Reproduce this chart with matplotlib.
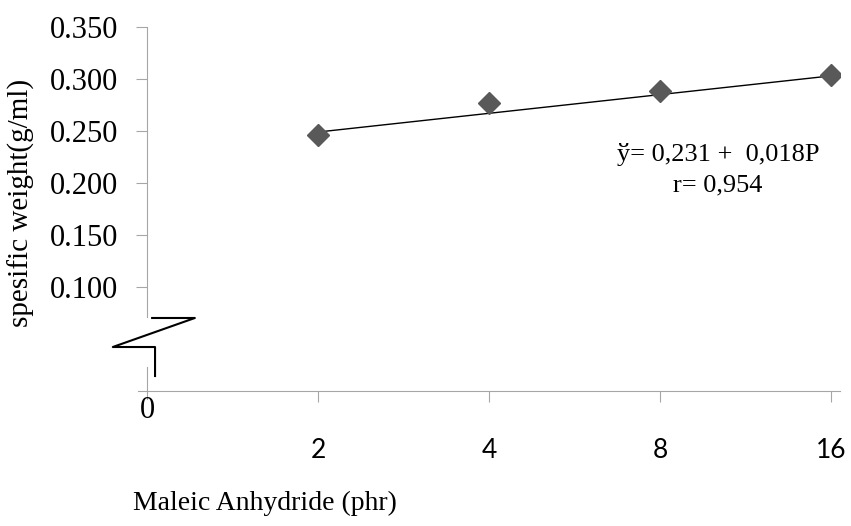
import numpy as np
import matplotlib.pyplot as plt

# data
categories = ["0", "2", "4", "8", "16"]
ma_phr = ["2", "4", "8", "16"]
spec_weight = [0.246, 0.277, 0.288, 0.304]
# trend line from the printed equation  y = 0.231 + 0.018 P
a0, a1 = 0.231, 0.018
y_ticks = [0.100, 0.150, 0.200, 0.250, 0.300, 0.350]

serif = "Liberation Serif"
gray = "#a6a6a6"

fig = plt.figure(figsize=(8.51, 5.26), dpi=100)
ax = fig.add_axes([138 / 851, 1 - 391 / 526, 702 / 851, 364 / 526])

pos = np.arange(1, len(ma_phr) + 1)
ax.plot(pos, spec_weight, linestyle="none", marker="D", markersize=11,
        color="#595959", zorder=3)
ax.plot(pos, a0 + a1 * pos, color="black", linewidth=1.0, zorder=2)

ax.set_xlim(-9 / 171, 693 / 171)
ax.set_ylim(0, 0.35)

# axes look
for s in ["top", "right"]:
    ax.spines[s].set_visible(False)
ax.spines["left"].set_color(gray)
ax.spines["bottom"].set_color(gray)
ax.spines["left"].set_position(("data", 0))
ax.spines["left"].set_bounds(0.0712, 0.35)
ax.plot([0, 0], [-0.008, 0.0231], color=gray, linewidth=0.8, clip_on=False)

ax.set_yticks(y_ticks)
ax.set_yticklabels(["%.3f" % v for v in y_ticks], fontfamily=serif, fontsize=22)
ax.tick_params(axis="y", length=8, color=gray, pad=13)

ax.set_xticks(pos)
ax.set_xticklabels(ma_phr, fontfamily="Lato", fontsize=19)
ax.tick_params(axis="x", length=8, color=gray, pad=26)
ax.text(0, -0.019, categories[0], ha="center", va="center",
        fontfamily=serif, fontsize=22)

# axis break symbol
bx = [0.03, 0.28, -0.2, 0.047, 0.047]
by = [0.0702, 0.0702, 0.0423, 0.0423, 0.0144]
ax.plot(bx, by, color="black", linewidth=1.5, clip_on=False, zorder=4)

ax.text(3.34, 0.227, "ў= 0,231 +  0,018P", ha="center", va="center",
        fontfamily=serif, fontsize=19)
ax.text(3.34, 0.198, "r= 0,954", ha="center", va="center",
        fontfamily=serif, fontsize=19)

fig.text(265 / 851, 1 - 503 / 526, "Maleic Anhydride (phr)", ha="center",
         va="center", fontfamily=serif, fontsize=20)
fig.text(21 / 851, 1 - 203 / 526, "spesific weight(g/ml)", ha="center",
         va="center", rotation=90, fontfamily=serif, fontsize=21)

fig.savefig("out.png", dpi=100)
